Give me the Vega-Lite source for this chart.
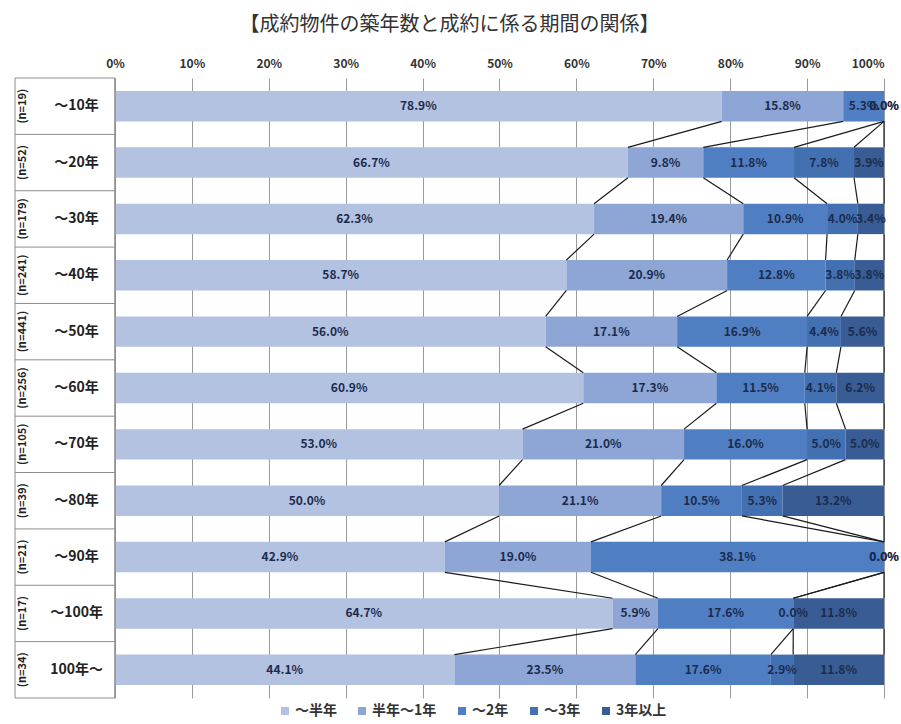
{
  "$schema": "https://vega.github.io/schema/vega-lite/v6.json",
  "width": 869,
  "height": 620,
  "autosize": {"type": "none"},
  "padding": {"left": 15, "top": 78, "right": 17, "bottom": 26},
  "background": "white",
  "title": {"text": "【成約物件の築年数と成約に係る期間の関係】", "font": "Noto Sans CJK JP", "fontSize": 20, "fontWeight": "normal", "color": "#333333", "anchor": "middle", "offset": 22},
  "config": {"view": {"stroke": null}, "font": "Noto Sans CJK JP"},
  "data": {"values": [
    {"cat": "～10年", "n": 19, "row": 0, "～半年": 78.9, "半年～1年": 15.8, "～2年": 5.3, "～3年": 0.0, "3年以上": 0.0},
    {"cat": "～20年", "n": 52, "row": 1, "～半年": 66.7, "半年～1年": 9.8, "～2年": 11.8, "～3年": 7.8, "3年以上": 3.9},
    {"cat": "～30年", "n": 179, "row": 2, "～半年": 62.3, "半年～1年": 19.4, "～2年": 10.9, "～3年": 4.0, "3年以上": 3.4},
    {"cat": "～40年", "n": 241, "row": 3, "～半年": 58.7, "半年～1年": 20.9, "～2年": 12.8, "～3年": 3.8, "3年以上": 3.8},
    {"cat": "～50年", "n": 441, "row": 4, "～半年": 56.0, "半年～1年": 17.1, "～2年": 16.9, "～3年": 4.4, "3年以上": 5.6},
    {"cat": "～60年", "n": 256, "row": 5, "～半年": 60.9, "半年～1年": 17.3, "～2年": 11.5, "～3年": 4.1, "3年以上": 6.2},
    {"cat": "～70年", "n": 105, "row": 6, "～半年": 53.0, "半年～1年": 21.0, "～2年": 16.0, "～3年": 5.0, "3年以上": 5.0},
    {"cat": "～80年", "n": 39, "row": 7, "～半年": 50.0, "半年～1年": 21.1, "～2年": 10.5, "～3年": 5.3, "3年以上": 13.2},
    {"cat": "～90年", "n": 21, "row": 8, "～半年": 42.9, "半年～1年": 19.0, "～2年": 38.1, "～3年": 0.0, "3年以上": 0.0},
    {"cat": "～100年", "n": 17, "row": 9, "～半年": 64.7, "半年～1年": 5.9, "～2年": 17.6, "～3年": 0.0, "3年以上": 11.8},
    {"cat": "100年～", "n": 34, "row": 10, "～半年": 44.1, "半年～1年": 23.5, "～2年": 17.6, "～3年": 2.9, "3年以上": 11.8}
  ]},
  "transform": [
    {"fold": ["～半年", "半年～1年", "～2年", "～3年", "3年以上"], "as": ["series", "value"]},
    {"calculate": "indexof(['～半年','半年～1年','～2年','～3年','3年以上'], datum.series)", "as": "s"},
    {"stack": "value", "groupby": ["cat"], "sort": [{"field": "s", "order": "ascending"}], "offset": "normalize", "as": ["x0", "x1"]},
    {"calculate": "(datum.x0 + datum.x1) / 2", "as": "xm"},
    {"calculate": "format(datum.value, '.1f') + '%'", "as": "lbl"},
    {"calculate": "'(n=' + datum.n + ')'", "as": "nlbl"},
    {"calculate": "datum.row + 0.23", "as": "yt"},
    {"calculate": "datum.row + 0.77", "as": "yb"},
    {"calculate": "datum.row + 0.5", "as": "yc"}
  ],
  "layer": [
    {
      "mark": {"type": "rect"},
      "encoding": {
        "x": {"field": "x0", "type": "quantitative", "title": null,
          "scale": {"domain": [-0.13, 1], "nice": false, "zero": false},
          "axis": {"orient": "top", "values": [0, 0.1, 0.2, 0.3, 0.4, 0.5, 0.6, 0.7, 0.8, 0.9, 1], "format": ".0%", "title": null, "grid": true, "gridColor": "#9a9a9a", "gridWidth": 1, "ticks": false, "domain": false, "labelFont": "Noto Sans CJK JP", "labelFontSize": 12, "labelFontWeight": "bold", "labelColor": "#333333", "labelPadding": 8}},
        "x2": {"field": "x1"},
        "y": {"field": "yt", "type": "quantitative", "scale": {"domain": [0, 11], "reverse": true, "nice": false, "zero": false}, "axis": null},
        "y2": {"field": "yb"},
        "color": {"field": "series", "type": "nominal",
          "scale": {"domain": ["～半年", "半年～1年", "～2年", "～3年", "3年以上"], "range": ["#b4c2e2", "#8da6d5", "#4f7fc2", "#4270b1", "#385c93"]},
          "legend": {"title": null, "orient": "none", "legendX": 263, "legendY": 626, "direction": "horizontal", "symbolType": "square", "symbolSize": 64, "symbolStrokeWidth": 0, "labelFont": "Noto Sans CJK JP", "labelFontSize": 14, "labelFontWeight": "bold", "labelColor": "#333333", "columnPadding": 18, "labelOffset": 3}}
      }
    },
    {
      "transform": [
        {"window": [{"op": "lead", "field": "x1", "as": "nx1"}], "groupby": ["series"], "sort": [{"field": "row", "order": "ascending"}]},
        {"filter": "datum.nx1 != null"},
        {"calculate": "datum.row + 1.23", "as": "ynt"}
      ],
      "mark": {"type": "rule", "color": "#1a1a1a", "strokeWidth": 1.2},
      "encoding": {
        "x": {"field": "x1", "type": "quantitative", "title": null, "scale": {"domain": [-0.13, 1], "nice": false, "zero": false}},
        "x2": {"field": "nx1"},
        "y": {"field": "yb", "type": "quantitative", "scale": {"domain": [0, 11], "reverse": true, "nice": false, "zero": false}, "axis": null},
        "y2": {"field": "ynt"}
      }
    },
    {
      "mark": {"type": "text", "font": "Noto Sans CJK JP", "fontSize": 12, "fontWeight": "bold", "color": "#1c2b4d"},
      "encoding": {
        "x": {"field": "xm", "type": "quantitative", "title": null, "scale": {"domain": [-0.13, 1], "nice": false, "zero": false}},
        "y": {"field": "yc", "type": "quantitative", "scale": {"domain": [0, 11], "reverse": true, "nice": false, "zero": false}, "axis": null},
        "text": {"field": "lbl"}
      }
    },
    {
      "transform": [{"filter": "datum.s == 0"}],
      "mark": {"type": "rule", "color": "#8c8c8c", "strokeWidth": 1},
      "encoding": {
        "x": {"datum": -0.13, "type": "quantitative", "title": null, "scale": {"domain": [-0.13, 1], "nice": false, "zero": false}},
        "x2": {"datum": 0},
        "y": {"field": "row", "type": "quantitative", "scale": {"domain": [0, 11], "reverse": true, "nice": false, "zero": false}, "axis": null}
      }
    },
    {
      "transform": [{"filter": "datum.s == 0 && datum.row == 0"}],
      "mark": {"type": "rule", "color": "#8c8c8c", "strokeWidth": 1},
      "encoding": {
        "x": {"datum": -0.13, "type": "quantitative", "title": null, "scale": {"domain": [-0.13, 1], "nice": false, "zero": false}},
        "x2": {"datum": 0},
        "y": {"datum": 11, "type": "quantitative", "scale": {"domain": [0, 11], "reverse": true, "nice": false, "zero": false}, "axis": null}
      }
    },
    {
      "transform": [{"filter": "datum.s == 0 && datum.row == 0"}],
      "mark": {"type": "rule", "color": "#8c8c8c", "strokeWidth": 1},
      "encoding": {
        "x": {"datum": -0.13, "type": "quantitative", "title": null, "scale": {"domain": [-0.13, 1], "nice": false, "zero": false}},
        "y": {"datum": 0, "type": "quantitative", "scale": {"domain": [0, 11], "reverse": true, "nice": false, "zero": false}, "axis": null},
        "y2": {"datum": 11}
      }
    },
    {
      "transform": [{"filter": "datum.s == 0 && datum.row == 0"}],
      "mark": {"type": "rule", "color": "#8c8c8c", "strokeWidth": 1.5},
      "encoding": {
        "x": {"datum": 0, "type": "quantitative", "title": null, "scale": {"domain": [-0.13, 1], "nice": false, "zero": false}},
        "y": {"datum": 0, "type": "quantitative", "scale": {"domain": [0, 11], "reverse": true, "nice": false, "zero": false}, "axis": null},
        "y2": {"datum": 11}
      }
    },
    {
      "transform": [{"filter": "datum.s == 0"}],
      "mark": {"type": "text", "font": "Noto Sans CJK JP", "fontSize": 11, "fontWeight": "bold", "color": "#222222", "angle": 270},
      "encoding": {
        "x": {"datum": -0.119, "type": "quantitative", "title": null, "scale": {"domain": [-0.13, 1], "nice": false, "zero": false}},
        "y": {"field": "yc", "type": "quantitative", "scale": {"domain": [0, 11], "reverse": true, "nice": false, "zero": false}, "axis": null},
        "text": {"field": "nlbl"}
      }
    },
    {
      "transform": [{"filter": "datum.s == 0"}],
      "mark": {"type": "text", "font": "Noto Sans CJK JP", "fontSize": 14, "fontWeight": "bold", "color": "#222222"},
      "encoding": {
        "x": {"datum": -0.05, "type": "quantitative", "title": null, "scale": {"domain": [-0.13, 1], "nice": false, "zero": false}},
        "y": {"field": "yc", "type": "quantitative", "scale": {"domain": [0, 11], "reverse": true, "nice": false, "zero": false}, "axis": null},
        "text": {"field": "cat"}
      }
    }
  ]
}
